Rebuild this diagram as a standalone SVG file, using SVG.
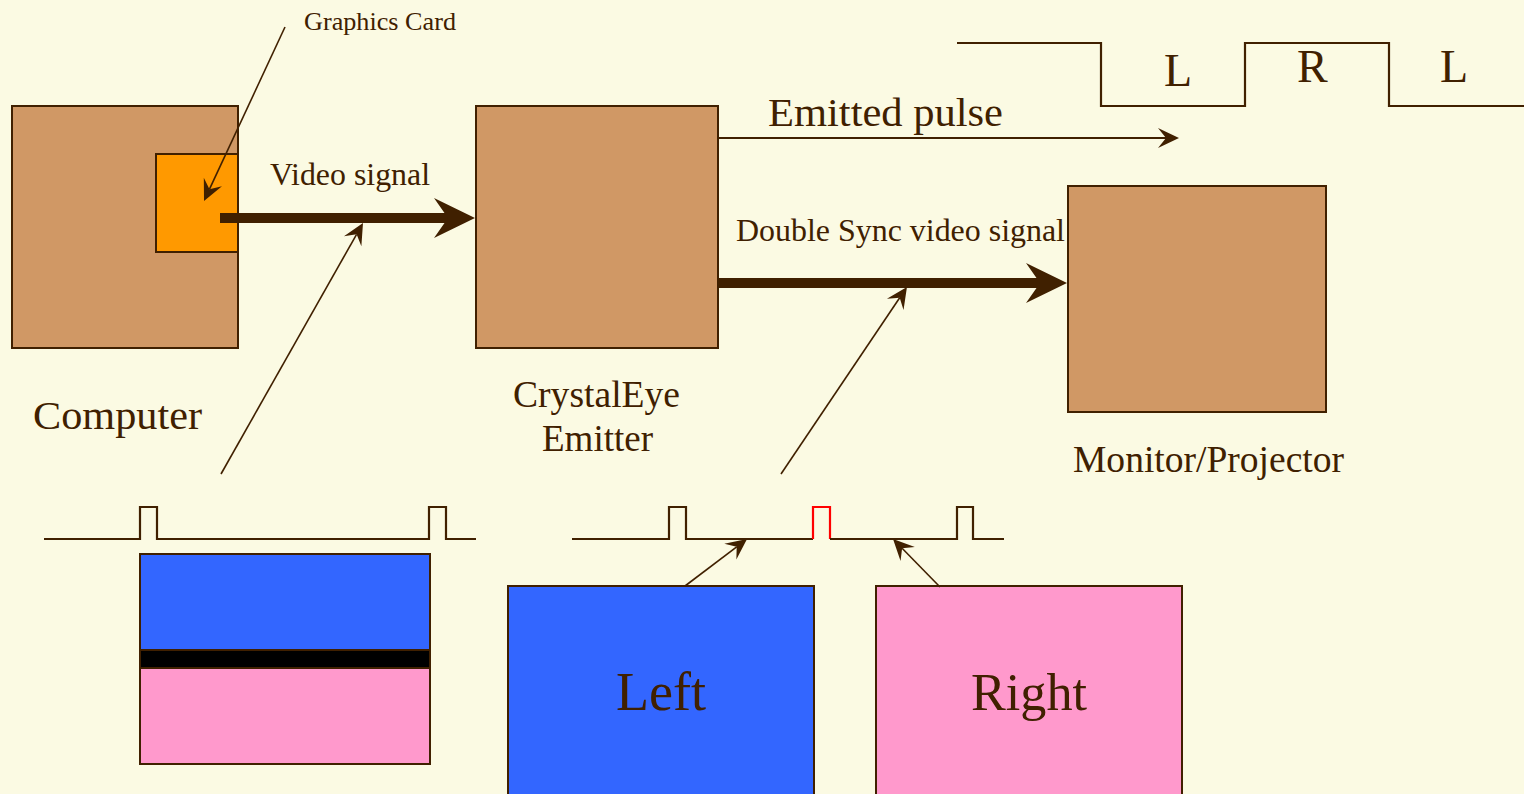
<svg xmlns="http://www.w3.org/2000/svg" width="1524" height="794" viewBox="0 0 1524 794">
  <style>
    .box { fill: #D09865; stroke: #402000; stroke-width: 2; }
    .ln { fill: none; stroke: #402000; stroke-width: 2; }
    .thin { fill: none; stroke: #402000; stroke-width: 1.6; }
    .thick { fill: none; stroke: #402000; stroke-width: 10; }
    .wave { fill: none; stroke: #402000; stroke-width: 2.2; }
    .lbl { font-family: "Liberation Serif", "Times New Roman", serif; fill: #402000; }
  </style>
  <defs>
    <!-- barbed heads; the shaft stops at the notch (refX) so its end stays hidden -->
    <marker id="barb" markerUnits="userSpaceOnUse" viewBox="-22 -11 23 22" refX="-13" refY="0" markerWidth="23" markerHeight="22" orient="auto">
      <path d="M0,0 L-21,-10 L-13,0 L-21,10 Z" fill="#402000"/>
    </marker>
    <marker id="bigbarb" markerUnits="userSpaceOnUse" viewBox="-42 -21 43 42" refX="-27" refY="0" markerWidth="43" markerHeight="42" orient="auto">
      <path d="M0,0 L-41,-20 L-27,0 L-41,20 Z" fill="#402000"/>
    </marker>
  </defs>

  <rect x="0" y="0" width="1524" height="794" fill="#FBFAE3"/>

  <!-- Computer with its graphics card -->
  <g id="computer">
    <rect class="box" x="12" y="106" width="226" height="242"/>
    <rect x="156" y="154" width="82" height="98" fill="#FF9900" stroke="#402000" stroke-width="2"/>
    <text class="lbl" x="33" y="429" font-size="41" textLength="169" lengthAdjust="spacingAndGlyphs">Computer</text>
  </g>

  <g id="graphics-card-label">
    <text class="lbl" x="304" y="30" font-size="26" textLength="152" lengthAdjust="spacingAndGlyphs">Graphics Card</text>
  </g>

  <!-- Emitter -->
  <g id="emitter">
    <rect class="box" x="476" y="106" width="242" height="242"/>
    <text class="lbl" x="513" y="407" font-size="37" textLength="167" lengthAdjust="spacingAndGlyphs">CrystalEye</text>
    <text class="lbl" x="542" y="451" font-size="37" textLength="111" lengthAdjust="spacingAndGlyphs">Emitter</text>
  </g>

  <!-- Display -->
  <g id="monitor">
    <rect class="box" x="1068" y="186" width="258" height="226"/>
    <text class="lbl" x="1073" y="472" font-size="37" textLength="271" lengthAdjust="spacingAndGlyphs">Monitor/Projector</text>
  </g>

  <!-- Shutter timing: L / R / L -->
  <g id="shutter-wave">
    <path class="wave" d="M957,43 H1101 V106 H1245 V43 H1389 V106 H1524"/>
    <text class="lbl" x="1164" y="86" font-size="46">L</text>
    <text class="lbl" x="1297" y="82" font-size="46">R</text>
    <text class="lbl" x="1440" y="82" font-size="46">L</text>
  </g>

  <!-- Single-sync frame: both eyes stacked -->
  <g id="stacked-frame">
    <path class="wave" d="M44,539 H140 V507 H157 V539 H429 V507 H446 V539 H476"/>
    <rect x="140" y="554" width="290" height="96" fill="#3366FF" stroke="#402000" stroke-width="2"/>
    <rect x="140" y="650" width="290" height="18" fill="#000000" stroke="#402000" stroke-width="2"/>
    <rect x="140" y="668" width="290" height="96" fill="#FF99CC" stroke="#402000" stroke-width="2"/>
  </g>

  <!-- Double-sync signal -->
  <g id="double-sync-wave">
    <path class="wave" d="M572,539 H669 V507 H686 V539 H813"/>
    <path fill="none" stroke="#FF0000" stroke-width="2.2" d="M813,539 V507 H830 V539"/>
    <path class="wave" d="M830,539 H957 V507 H973 V539 H1004"/>
  </g>

  <g id="left-frame">
    <rect x="508" y="586" width="306" height="220" fill="#3366FF" stroke="#402000" stroke-width="2"/>
    <text class="lbl" x="616" y="710" font-size="54" textLength="90" lengthAdjust="spacingAndGlyphs">Left</text>
  </g>

  <g id="right-frame">
    <rect x="876" y="586" width="306" height="220" fill="#FF99CC" stroke="#402000" stroke-width="2"/>
    <text class="lbl" x="971" y="710" font-size="53" textLength="116" lengthAdjust="spacingAndGlyphs">Right</text>
  </g>

  <!-- Connectors (end points are the notch of each head; the tip lies beyond) -->
  <g id="connectors">
    <line class="thick" x1="220" y1="218" x2="448" y2="218" marker-end="url(#bigbarb)"/>
    <text class="lbl" x="270" y="185" font-size="31" textLength="160" lengthAdjust="spacingAndGlyphs">Video signal</text>

    <line class="thick" x1="718" y1="283" x2="1040" y2="283" marker-end="url(#bigbarb)"/>
    <text class="lbl" x="736" y="241" font-size="31" textLength="329" lengthAdjust="spacingAndGlyphs">Double Sync video signal</text>

    <line class="ln" x1="718" y1="138" x2="1166" y2="138" marker-end="url(#barb)"/>
    <text class="lbl" x="768" y="126" font-size="41" textLength="235" lengthAdjust="spacingAndGlyphs">Emitted pulse</text>

    <line class="thin" x1="285" y1="27" x2="209.5" y2="189.2" marker-end="url(#barb)"/>
    <line class="thin" x1="221" y1="474" x2="356.6" y2="234.3" marker-end="url(#barb)"/>
    <line class="thin" x1="781" y1="474" x2="899.7" y2="297.8" marker-end="url(#barb)"/>
    <line class="thin" x1="685" y1="586" x2="736.7" y2="546.8" marker-end="url(#barb)"/>
    <line class="thin" x1="940" y1="587" x2="902.1" y2="548.3" marker-end="url(#barb)"/>
  </g>
</svg>
